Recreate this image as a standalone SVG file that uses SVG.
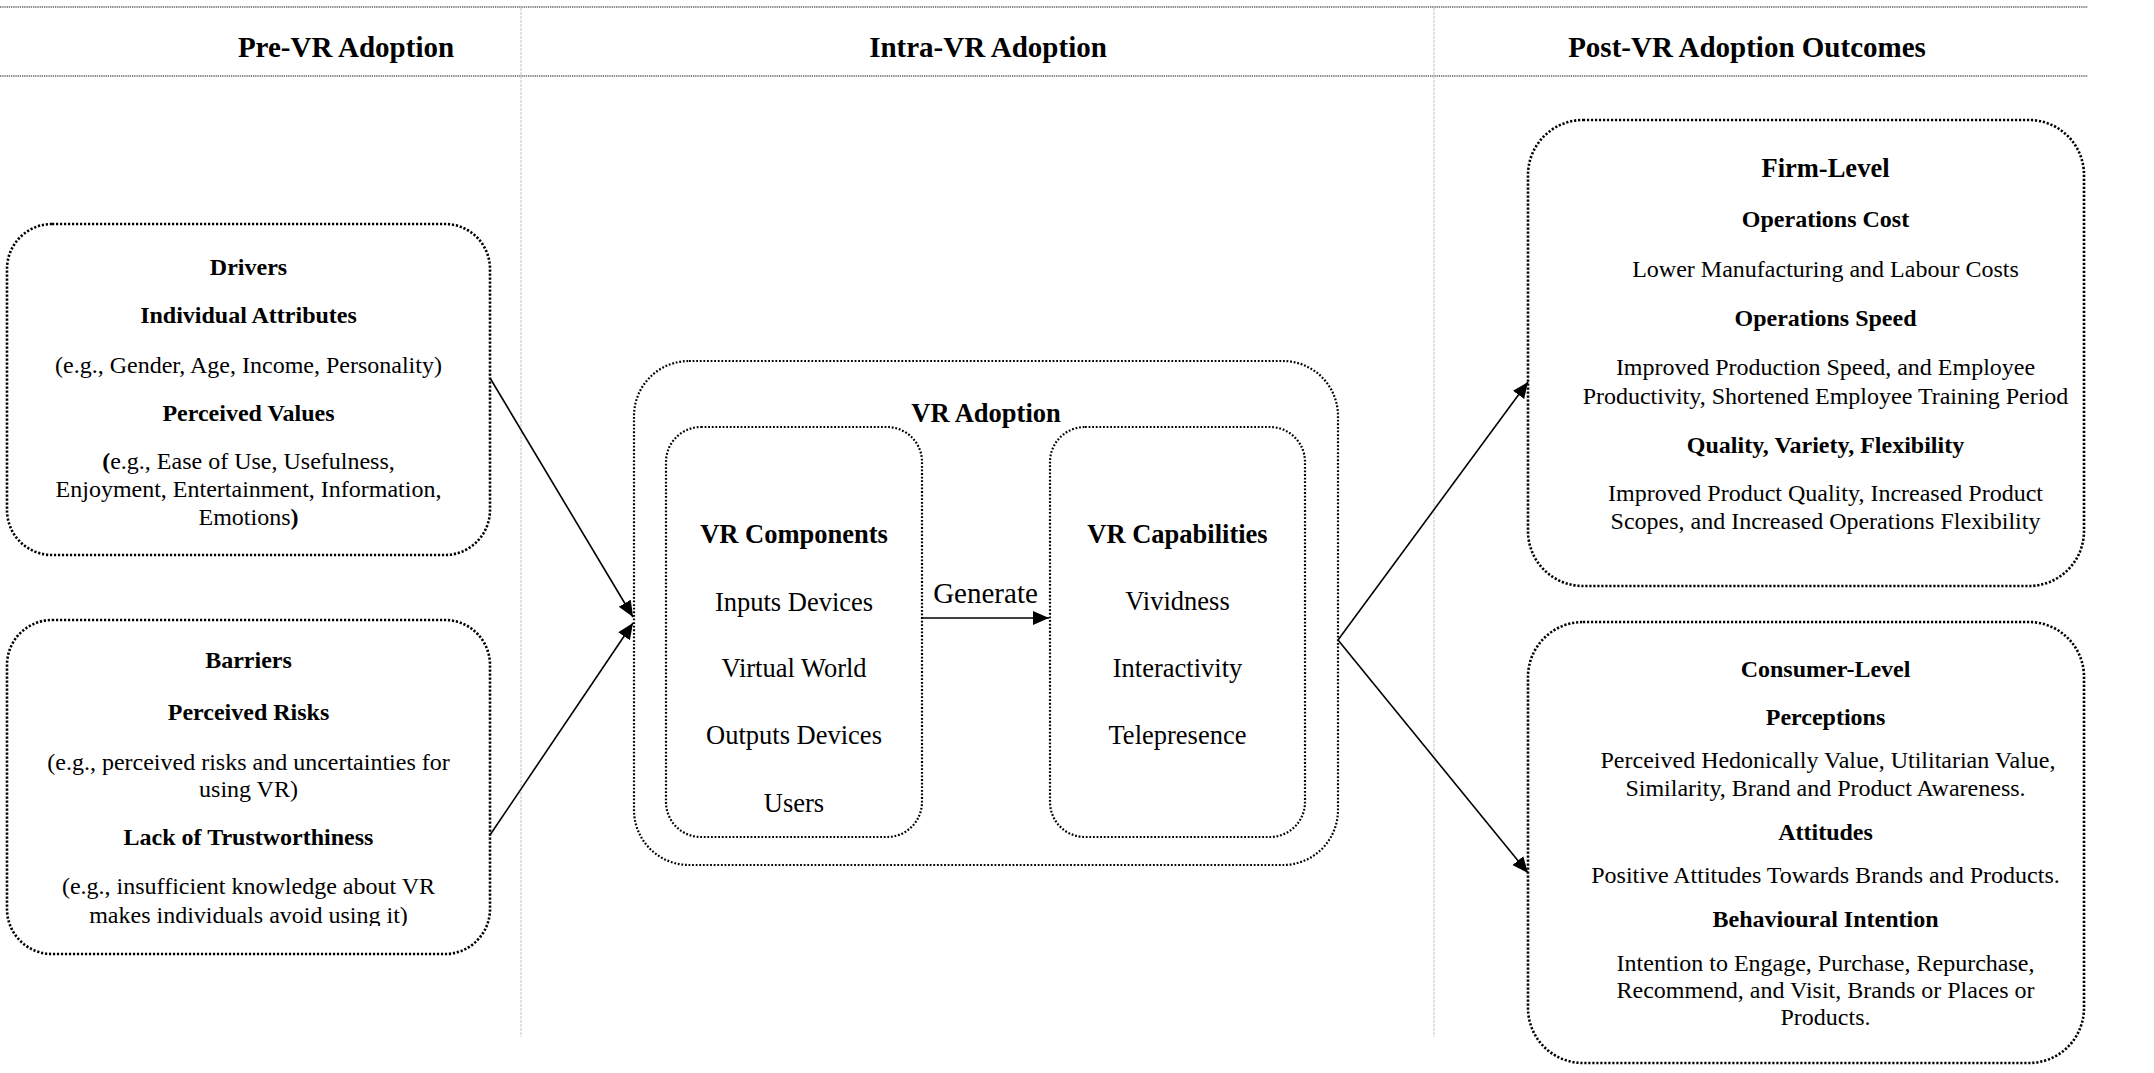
<svg xmlns="http://www.w3.org/2000/svg" width="2154" height="1073" viewBox="0 0 2154 1073">
  <style>
    .t { font-family: "Liberation Serif", "Times New Roman", serif; fill: #000; text-anchor: middle; }
    .b { font-weight: bold; }
    .s24 { font-size: 24px; }
    .s26 { font-size: 26.5px; }
    .hdr { font-size: 29px; font-weight: bold; }
    .box { fill: none; stroke: #000; stroke-width: 2.6; stroke-dasharray: 2.2 1.8; }
    .inner { fill: none; stroke: #000; stroke-width: 2.2; stroke-dasharray: 1.8 1.8; }
    .rule { stroke: #111; stroke-width: 1.2; stroke-dasharray: 1.3 0.9; }
    .sep { stroke: #cfcfcf; stroke-width: 1.2; stroke-dasharray: 3 1; }
    .conn { fill: none; stroke: #000; stroke-width: 1.6; marker-end: url(#arrow); }
  </style>
  <defs>
    <marker id="arrow" markerUnits="userSpaceOnUse" markerWidth="17" markerHeight="15" refX="16" refY="7" orient="auto">
      <path d="M0,0 L16,7 L0,14 Z" fill="#000"/>
    </marker>
    <clipPath id="clipLast">
      <rect x="0" y="880" width="500" height="46"/>
    </clipPath>
  </defs>
  <rect width="2154" height="1073" fill="#fff"/>

  <!-- stage headers and column separators -->
  <g id="stages">
    <line class="rule" x1="0" y1="7" x2="2088" y2="7"/>
    <line class="rule" x1="0" y1="76" x2="2088" y2="76"/>
    <line class="sep" x1="521" y1="8" x2="521" y2="1037"/>
    <line class="sep" x1="1434" y1="8" x2="1434" y2="1037"/>
    <text class="t hdr" x="346" y="57">Pre-VR Adoption</text>
    <text class="t hdr" x="988" y="57">Intra-VR Adoption</text>
    <text class="t hdr" x="1747" y="57">Post-VR Adoption Outcomes</text>
  </g>

  <!-- drivers -->
  <g id="drivers">
    <rect class="box" x="7" y="224" width="483" height="331" rx="45"/>
    <text class="t b s24" x="248.5" y="275">Drivers</text>
    <text class="t b s24" x="248.5" y="323">Individual Attributes</text>
    <text class="t s24" x="248.5" y="373">(e.g., Gender, Age, Income, Personality)</text>
    <text class="t b s24" x="248.5" y="421">Perceived Values</text>
    <text class="t s24" x="248.5" y="469"><tspan class="b">(</tspan>e.g., Ease of Use, Usefulness,</text>
    <text class="t s24" x="248.5" y="497">Enjoyment, Entertainment, Information,</text>
    <text class="t s24" x="248.5" y="525">Emotions<tspan class="b">)</tspan></text>
  </g>

  <!-- barriers -->
  <g id="barriers">
    <rect class="box" x="7" y="620" width="483" height="334" rx="45"/>
    <text class="t b s24" x="248.5" y="668">Barriers</text>
    <text class="t b s24" x="248.5" y="720">Perceived Risks</text>
    <text class="t s24" x="248.5" y="770">(e.g., perceived risks and uncertainties for</text>
    <text class="t s24" x="248.5" y="797">using VR)</text>
    <text class="t b s24" x="248.5" y="845">Lack of Trustworthiness</text>
    <text class="t s24" x="248.5" y="894">(e.g., insufficient knowledge about VR</text>
    <text class="t s24" x="248.5" y="923" clip-path="url(#clipLast)">makes individuals avoid using it)</text>
  </g>

  <!-- VR adoption container -->
  <g id="vr-adoption">
    <rect class="inner" x="634" y="361" width="704" height="504" rx="55"/>
    <text class="t b s26" x="986" y="422">VR Adoption</text>
  </g>

  <g id="vr-components">
    <rect class="inner" x="666" y="427" width="256" height="410" rx="35"/>
    <text class="t b s26" x="794" y="543">VR Components</text>
    <text class="t s26" x="794" y="611">Inputs Devices</text>
    <text class="t s26" x="794" y="677">Virtual World</text>
    <text class="t s26" x="794" y="744">Outputs Devices</text>
    <text class="t s26" x="794" y="812">Users</text>
  </g>

  <g id="vr-capabilities">
    <rect class="inner" x="1050" y="427" width="255" height="410" rx="35"/>
    <text class="t b s26" x="1177.5" y="543">VR Capabilities</text>
    <text class="t s26" x="1177.5" y="610">Vividness</text>
    <text class="t s26" x="1177.5" y="677">Interactivity</text>
    <text class="t s26" x="1177.5" y="744">Telepresence</text>
  </g>

  <!-- firm-level outcomes -->
  <g id="firm-level">
    <rect class="box" x="1528" y="120" width="556" height="466" rx="55"/>
    <text class="t b s26" x="1825.5" y="177">Firm-Level</text>
    <text class="t b s24" x="1825.5" y="227">Operations Cost</text>
    <text class="t s24" x="1825.5" y="277">Lower Manufacturing and Labour Costs</text>
    <text class="t b s24" x="1825.5" y="326">Operations Speed</text>
    <text class="t s24" x="1825.5" y="375">Improved Production Speed, and Employee</text>
    <text class="t s24" x="1825.5" y="404">Productivity, Shortened Employee Training Period</text>
    <text class="t b s24" x="1825.5" y="453">Quality, Variety, Flexibility</text>
    <text class="t s24" x="1825.5" y="501">Improved Product Quality, Increased Product</text>
    <text class="t s24" x="1825.5" y="529">Scopes, and Increased Operations Flexibility</text>
  </g>

  <!-- consumer-level outcomes -->
  <g id="consumer-level">
    <rect class="box" x="1528" y="622" width="556" height="441" rx="55"/>
    <text class="t b s24" x="1825.5" y="677">Consumer-Level</text>
    <text class="t b s24" x="1825.5" y="725">Perceptions</text>
    <text class="t s24" x="1828" y="768">Perceived Hedonically Value, Utilitarian Value,</text>
    <text class="t s24" x="1825.5" y="796">Similarity, Brand and Product Awareness.</text>
    <text class="t b s24" x="1825.5" y="840">Attitudes</text>
    <text class="t s24" x="1825.5" y="883">Positive Attitudes Towards Brands and Products.</text>
    <text class="t b s24" x="1825.5" y="927">Behavioural Intention</text>
    <text class="t s24" x="1825.5" y="971">Intention to Engage, Purchase, Repurchase,</text>
    <text class="t s24" x="1825.5" y="998">Recommend, and Visit, Brands or Places or</text>
    <text class="t s24" x="1825.5" y="1025">Products.</text>
  </g>

  <!-- connectors -->
  <g id="connectors">
    <line class="conn" x1="490" y1="378" x2="633" y2="617"/>
    <line class="conn" x1="490" y1="835" x2="633" y2="623"/>
    <line class="conn" x1="922" y1="618" x2="1049" y2="618"/>
    <text class="t" x="985.5" y="603" style="font-size:29px">Generate</text>
    <line class="conn" x1="1338" y1="640" x2="1528" y2="382"/>
    <line class="conn" x1="1338" y1="640" x2="1528" y2="873"/>
  </g>
</svg>
